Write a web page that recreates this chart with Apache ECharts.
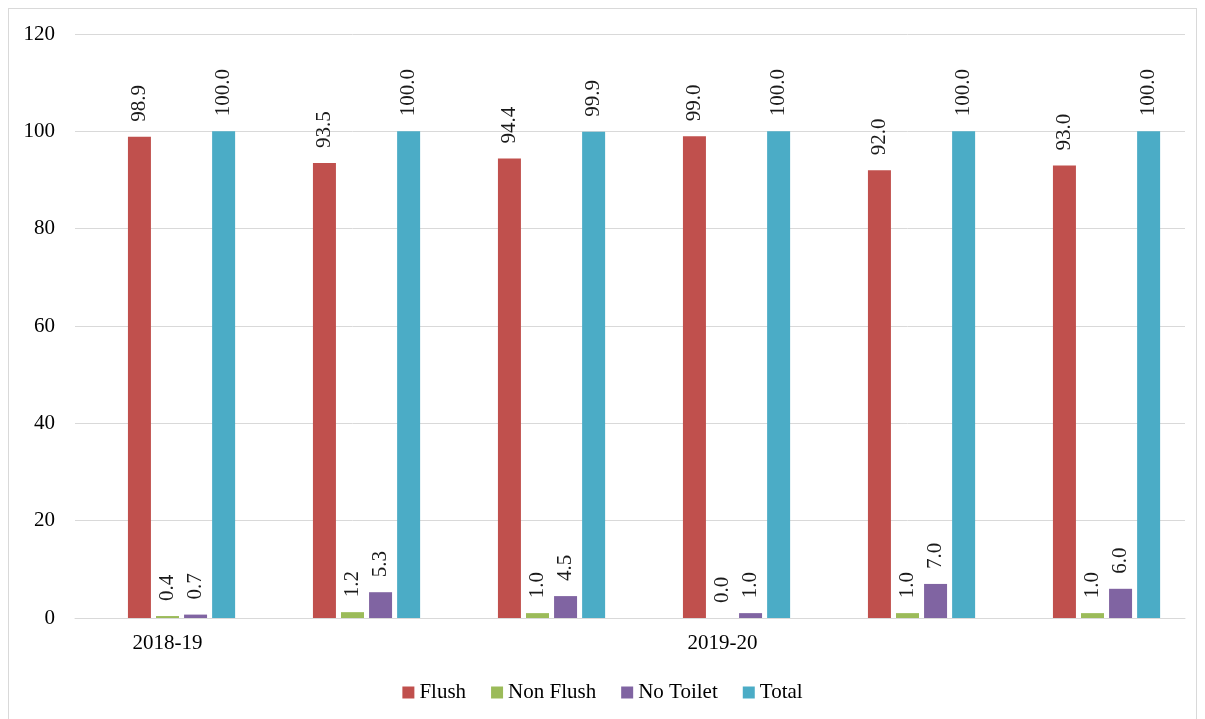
<!DOCTYPE html>
<html>
<head>
<meta charset="utf-8">
<script src="https://cdn.jsdelivr.net/npm/echarts@6/dist/echarts.min.js"></script>
<style>
html,body{margin:0;padding:0;background:#fff;}
#frame{position:absolute;left:8px;top:8px;width:1189px;height:720px;border:1px solid #d9d9d9;border-bottom:none;box-sizing:border-box;}
#chart{position:absolute;left:0;top:0;width:1205px;height:719px;}
</style>
</head>
<body>
<div id="frame"></div>
<div id="chart"></div>
<script>
const categories = ['2018-19', '', '', '2019-20', '', ''];
const spacer = [null, null, null, null, null, null];
const flush = [98.9, 93.5, 94.4, 99.0, 92.0, 93.0];
const nonFlush = [0.4, 1.2, 1.0, 0.0, 1.0, 1.0];
const noToilet = [0.7, 5.3, 4.5, 1.0, 7.0, 6.0];
const total = [100.0, 100.0, 99.9, 100.0, 100.0, 100.0];
const yTicks = [0, 20, 40, 60, 80, 100, 120];

const font = '"Liberation Serif", "Times New Roman", serif';
const chart = echarts.init(document.getElementById('chart'));
function mk(name, data, color) {
  return {
    name: name, type: 'bar', data: data,
    barWidth: 23, barGap: '22%',
    itemStyle: { color: color },
    label: {
      show: true, position: 'top', rotate: 90, distance: 15,
      align: 'left', verticalAlign: 'middle',
      fontFamily: font, fontSize: 21, color: '#1a1a1a',
      formatter: p => Number(p.value).toFixed(1)
    }
  };
}
chart.setOption({
  animation: false,
  textStyle: { fontFamily: font },
  grid: { left: 75, right: 20, top: 34, bottom: 101, containLabel: false },
  legend: {
    top: 677, left: 'center', itemWidth: 12, itemHeight: 12, itemGap: 25,
    icon: 'rect',
    textStyle: { fontFamily: font, fontSize: 21, color: '#000', padding: [0, 0, 0, 0] },
    data: ['Flush', 'Non Flush', 'No Toilet', 'Total']
  },
  xAxis: {
    type: 'category', data: categories,
    axisLine: { lineStyle: { color: '#d9d9d9', width: 1 } },
    axisTick: { show: false },
    axisLabel: { interval: 0, margin: 15, fontFamily: font, fontSize: 21, color: '#000' }
  },
  yAxis: {
    type: 'value', min: yTicks[0], max: yTicks[yTicks.length - 1], interval: 20,
    axisLine: { show: false }, axisTick: { show: false },
    splitLine: { lineStyle: { color: '#d9d9d9', width: 1 } },
    axisLabel: { margin: 20, fontFamily: font, fontSize: 21, color: '#000' }
  },
  series: [
    { name: 'spacer', type: 'bar', data: spacer, barWidth: 23, barGap: '22%', silent: true, itemStyle: { color: 'transparent' } },
    mk('Flush', flush, '#C0504D'),
    mk('Non Flush', nonFlush, '#9BBB59'),
    mk('No Toilet', noToilet, '#8064A2'),
    mk('Total', total, '#4BACC6')
  ]
});
</script>
</body>
</html>
